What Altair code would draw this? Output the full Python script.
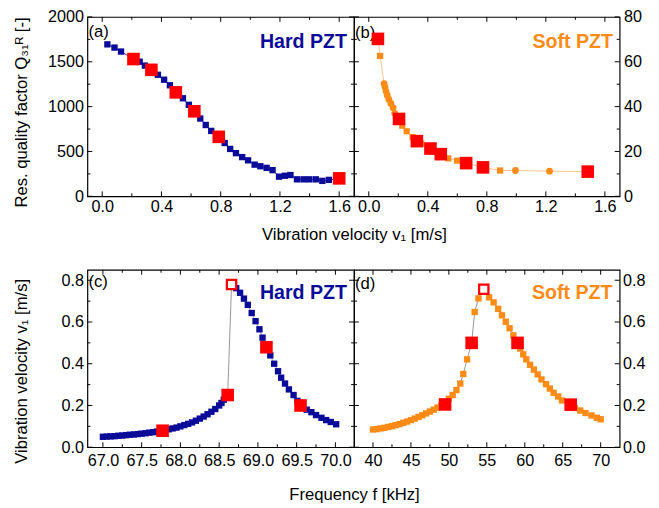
import altair as alt
import pandas as pd

FONT = "Liberation Sans"
NAVY = "#0b0b99"
ORANGE = "#ff8b17"
LIGHT_ORANGE = "#ffbf80"
RED = "#ff0000"
GREY = "#8a8a8a"

# ---------------- (a) Hard PZT: Q vs v ----------------
a_v = [0.035, 0.083, 0.127, 0.253, 0.288, 0.376, 0.418, 0.457, 0.545, 0.585, 0.662, 0.699,
       0.736, 0.827, 0.864, 0.903, 0.945, 0.985, 1.029, 1.068, 1.110, 1.150, 1.194, 1.233,
       1.271, 1.315, 1.359, 1.398, 1.442, 1.486, 1.530]
a_q = [1694, 1658, 1614, 1501, 1457, 1355, 1300, 1238, 1093, 1020, 867, 795,
       729, 594, 528, 481, 437, 401, 353, 335, 317, 292, 219, 229,
       237, 189, 189, 189, 189, 172, 183]
a_red_v = [0.211, 0.332, 0.497, 0.622, 0.787, 1.600]
a_red_q = [1530, 1410, 1159, 948, 663, 200]

# ---------------- (b) Soft PZT: Q vs v ----------------
b_v = [0.077, 0.104, 0.110, 0.117, 0.125, 0.136, 0.150, 0.165, 0.176, 0.227, 0.257, 0.297,
       0.356, 0.440, 0.539, 0.598, 0.890, 0.994, 1.225]
b_q = [62.6, 50.2, 48.7, 46.8, 45.1, 43.2, 41.4, 39.5, 37.0, 31.5, 29.0, 26.4,
       23.5, 19.8, 16.9, 15.9, 11.5, 11.5, 11.2]
b_shape = ["square", "circle", "circle", "circle", "circle", "circle", "circle", "circle", "circle",
           "square", "square", "square", "square", "square", "square", "square", "square",
           "circle", "circle"]
b_red_v = [0.062, 0.205, 0.326, 0.418, 0.488, 0.660, 0.774, 1.484]
b_red_q = [70.2, 34.5, 24.6, 21.3, 18.8, 14.8, 12.9, 11.0]

# ---------------- (c) Hard PZT: v vs f ----------------
c_f = [67.00, 67.05, 67.10, 67.15, 67.20, 67.25, 67.30, 67.35, 67.40, 67.45, 67.50, 67.55,
       67.60, 67.65, 67.70, 67.75, 67.80, 67.85, 67.90, 67.95, 68.00, 68.05, 68.10, 68.15,
       68.20, 68.25, 68.30, 68.35, 68.40, 68.45, 68.50, 68.53, 68.56,
       68.72, 68.77, 68.82, 68.87, 68.92, 68.97, 69.02, 69.06, 69.16, 69.21, 69.26, 69.30,
       69.35, 69.40, 69.46, 69.51, 69.63, 69.69, 69.75, 69.82, 69.88, 69.94, 70.01]
c_v = [0.050, 0.051, 0.052, 0.053, 0.055, 0.056, 0.058, 0.060, 0.061, 0.063, 0.065, 0.067,
       0.070, 0.072, 0.075, 0.078, 0.082, 0.086, 0.090, 0.094, 0.100, 0.106, 0.112, 0.119,
       0.127, 0.137, 0.147, 0.158, 0.170, 0.183, 0.200, 0.212, 0.228,
       0.762, 0.740, 0.712, 0.682, 0.643, 0.604, 0.565, 0.525, 0.440, 0.400, 0.364, 0.333,
       0.305, 0.277, 0.250, 0.222, 0.180, 0.168, 0.154, 0.141, 0.130, 0.121, 0.110]
c_red_f = [67.77, 68.61, 69.11, 69.55]
c_red_v = [0.079, 0.250, 0.479, 0.200]
c_open_f = [68.66]
c_open_v = [0.780]

# ---------------- (d) Soft PZT: v vs f ----------------
d_f = [40.0, 40.5, 41.0, 41.5, 42.0, 42.5, 43.0, 43.5, 44.0, 44.5, 45.0, 45.5, 46.0, 46.5,
       47.0, 47.5, 48.0, 48.5, 49.0, 50.0, 50.5, 51.0, 51.5, 51.9, 52.4, 53.4, 53.9,
       55.3, 55.9, 56.5, 57.0, 57.5, 58.0, 58.5, 59.4, 59.8, 60.2, 60.7, 61.2, 61.7, 62.2,
       62.8, 63.3, 63.8, 64.4, 64.9, 66.6, 67.3, 68.0, 68.8, 69.5, 70.0]
d_v = [0.085, 0.087, 0.090, 0.093, 0.097, 0.101, 0.106, 0.111, 0.117, 0.123, 0.130, 0.137,
       0.145, 0.153, 0.162, 0.171, 0.180, 0.190, 0.200, 0.232, 0.250, 0.274, 0.305, 0.351,
       0.421, 0.648, 0.713, 0.718, 0.694, 0.663, 0.632, 0.601, 0.570, 0.536, 0.473, 0.445,
       0.421, 0.395, 0.372, 0.349, 0.325, 0.302, 0.281, 0.261, 0.243, 0.224, 0.188, 0.176,
       0.164, 0.152, 0.141, 0.134]
d_red_f = [49.5, 53.0, 59.05, 66.05]
d_red_v = [0.205, 0.500, 0.500, 0.204]
d_open_f = [54.6]
d_open_v = [0.757]

# ---------------- ticks ----------------
a_x_major = [0.0, 0.4, 0.8, 1.2, 1.6]
a_x_minor = [0.2, 0.6, 1.0, 1.4]
a_y_major = [0, 500, 1000, 1500, 2000]
a_y_minor = [250, 750, 1250, 1750]
b_y_major = [0, 20, 40, 60, 80]
b_y_minor = [10, 30, 50, 70]
c_x_major = [67.0, 67.5, 68.0, 68.5, 69.0, 69.5, 70.0]
c_x_minor = [67.25, 67.75, 68.25, 68.75, 69.25, 69.75]
v_y_major = [0.0, 0.2, 0.4, 0.6, 0.8]
v_y_minor = [0.1, 0.3, 0.5, 0.7]
d_x_major = [40, 45, 50, 55, 60, 65, 70]
d_x_minor = [42.5, 47.5, 52.5, 57.5, 62.5, 67.5]

W_L, W_R = 272, 271
H_T, H_B = 183, 181


def df_xy(xs, ys):
    return pd.DataFrame({"x": list(xs), "y": list(ys)})


def panel(W, H, xdom, ydom, xaxis, yaxis, ticks, main, line_df, line_color, main_color,
          circles, reds, opens, tag, tag_xy, label, label_xy, msize):
    xs = alt.Scale(domain=xdom, nice=False, zero=False)
    ys = alt.Scale(domain=ydom, nice=False, zero=False)

    def X(f="x"):
        return alt.X(f"{f}:Q", scale=xs, axis=xaxis)

    def Y(f="y"):
        return alt.Y(f"{f}:Q", scale=ys, axis=yaxis)

    layers = []
    for txt, (tx, ty), size, color, weight in (
        (tag, tag_xy, 17, "black", "normal"),
        (label, label_xy, 20, main_color, "bold"),
    ):
        layers.append(alt.Chart(pd.DataFrame({"t": [txt]})).mark_text(
            align="left", baseline="middle", font=FONT, fontSize=size, color=color, fontWeight=weight
        ).encode(x=alt.value(tx), y=alt.value(ty), text="t:N"))
    layers.append(alt.Chart(line_df).mark_line(color=line_color, strokeWidth=0.9).encode(
        x=X(), y=Y(), order="x:Q"))
    layers.append(alt.Chart(main).mark_square(color=main_color, size=msize, opacity=1).encode(x=X(), y=Y()))
    if circles is not None:
        layers.append(alt.Chart(circles).mark_circle(color=main_color, size=msize + 8, opacity=1).encode(x=X(), y=Y()))
    layers.append(alt.Chart(reds).mark_square(color=RED, size=165, opacity=1).encode(x=X(), y=Y()))
    if opens is not None:
        layers.append(alt.Chart(opens).mark_point(shape="square", filled=True, fill="white", stroke=RED,
                                                  strokeWidth=2.3, size=90, opacity=1).encode(x=X(), y=Y()))
    xmaj, xmin, ymaj, ymin = ticks
    for vals, L in ((xmaj, 5), (xmin, 3)):
        base = alt.Chart(pd.DataFrame({"x": vals})).mark_rule(color="black", strokeWidth=1)
        layers.append(base.encode(x=X(), y=alt.value(H), y2=alt.value(H - L)))
        layers.append(base.encode(x=X(), y=alt.value(0), y2=alt.value(L)))
    for vals, L in ((ymaj, 5), (ymin, 3)):
        base = alt.Chart(pd.DataFrame({"y": vals})).mark_rule(color="black", strokeWidth=1)
        layers.append(base.encode(y=Y(), x=alt.value(0), x2=alt.value(L)))
        layers.append(base.encode(y=Y(), x=alt.value(W), x2=alt.value(W - L)))
    return alt.layer(*layers).properties(width=W, height=H)


def ax(values, fmt, orient, pad, title=None, **kw):
    args = dict(values=values, format=fmt, orient=orient, ticks=False, domain=False, grid=False,
                labelPadding=pad, labelOverlap=False, title=title,
                labelFont=FONT, labelFontSize=16.5, labelColor="black",
                titleFont=FONT, titleFontSize=17, titleColor="black", titleFontWeight="normal")
    args.update(kw)
    return alt.Axis(**args)


XT = "Vibration velocity v\u2081 [m/s]"

a_line = df_xy(*zip(*sorted(zip(a_v + a_red_v, a_q + a_red_q))))
pa = panel(
    W_L, H_T, [-0.1, 1.7], [0, 2000],
    ax(a_x_major, ".1f", "bottom", 3, XT, titleX=W_L, titleY=44, titleBaseline="alphabetic", titleAlign="center"),
    ax(a_y_major, "d", "left", 4, "Res. quality factor Q\u2083\u2081\u1d3f [-]", titleX=-67.5, titleY=97,
       titleAngle=270, titleBaseline="middle", titleAlign="center"),
    (a_x_major, a_x_minor, a_y_major, a_y_minor),
    df_xy(a_v, a_q), a_line, NAVY, NAVY, None, df_xy(a_red_v, a_red_q), None,
    "(a)", (1, 15), "Hard PZT", (176, 25.5), 42)

b_sq = [(v, q) for v, q, s in zip(b_v, b_q, b_shape) if s == "square"]
b_ci = [(v, q) for v, q, s in zip(b_v, b_q, b_shape) if s == "circle"]
b_line = df_xy(*zip(*sorted(zip(b_v + b_red_v, b_q + b_red_q))))
pb = panel(
    W_R, H_T, [-0.1, 1.7], [0, 80],
    ax(a_x_major, ".1f", "bottom", 3),
    ax(b_y_major, "d", "right", 4),
    (a_x_major, a_x_minor, b_y_major, b_y_minor),
    df_xy(*zip(*b_sq)), b_line, LIGHT_ORANGE, ORANGE, df_xy(*zip(*b_ci)), df_xy(b_red_v, b_red_q), None,
    "(b)", (1, 16), "Soft PZT", (182, 25.5), 40)

c_line = df_xy(*zip(*sorted(zip(c_f + c_red_f + c_open_f, c_v + c_red_v + c_open_v))))
pc = panel(
    W_L, H_B, [66.8, 70.24], [0, 0.85],
    ax(c_x_major, ".1f", "bottom", 6, "Frequency f [kHz]", titleX=W_L, titleY=53,
       titleBaseline="alphabetic", titleAlign="center"),
    ax(v_y_major, ".1f", "left", 4, XT, titleX=-67.5, titleY=103,
       titleAngle=270, titleBaseline="middle", titleAlign="center"),
    (c_x_major, c_x_minor, v_y_major, v_y_minor),
    df_xy(c_f, c_v), c_line, GREY, NAVY, None, df_xy(c_red_f, c_red_v), df_xy(c_open_f, c_open_v),
    "(c)", (1, 13), "Hard PZT", (176, 24), 42)

d_line = df_xy(*zip(*sorted(zip(d_f + d_red_f + d_open_f, d_v + d_red_v + d_open_v))))
pd_ = panel(
    W_R, H_B, [37.5, 72.5], [0, 0.85],
    ax(d_x_major, "d", "bottom", 6),
    ax(v_y_major, ".1f", "right", 3),
    (d_x_major, d_x_minor, v_y_major, v_y_minor),
    df_xy(d_f, d_v), d_line, GREY, ORANGE, None, df_xy(d_red_f, d_red_v), df_xy(d_open_f, d_open_v),
    "(d)", (1, 15), "Soft PZT", (181.5, 24), 42)

top = alt.hconcat(pa, pb, spacing=0, bounds="flush")
bottom = alt.hconcat(pc, pd_, spacing=0, bounds="flush")
chart = alt.vconcat(top, bottom, spacing=25).properties(
    padding={"left": 3, "top": -5, "right": 5, "bottom": 5},
    background="white",
).configure_view(stroke="black", strokeWidth=1.2)

chart.save("out.html", embed_options={"renderer": "svg", "actions": False})
